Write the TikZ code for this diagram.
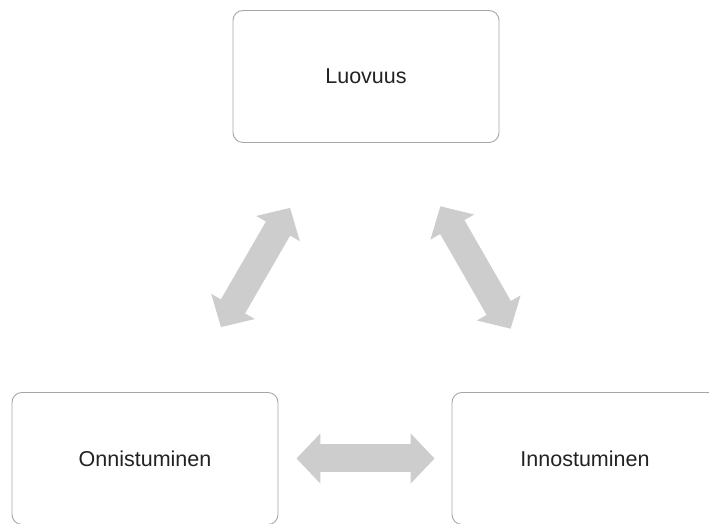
\documentclass[tikz,border=0pt]{standalone}
\usepackage{fontspec}
\setmainfont{Liberation Sans}
\usepackage{tikz}
\usetikzlibrary{arrows.meta}
\definecolor{boxline}{HTML}{A6A6A6}
\definecolor{arrowgray}{HTML}{CDCDCD}
\definecolor{textgray}{HTML}{222222}

\begin{document}
\begin{tikzpicture}[
    x=1pt, y=1pt,
    box/.style={rectangle, draw=boxline, line width=0.9pt, rounded corners=10pt, fill=white, minimum width=266pt, minimum height=132pt, font=\fontsize{21.5}{24}\selectfont, text=textgray},
    bigarrow/.style={draw=arrowgray, line width=28pt, {Triangle[length=24pt,width=49pt]}-{Triangle[length=24pt,width=49pt]}},
]
\useasboundingbox (0,0) rectangle (709,524);
\clip (0,0) rectangle (709,524);

% Top box
\node[box] (luo) at (366,447.5) {Luovuus};

% Bottom boxes
\node[box] (onn) at (145,65.5) {Onnistuminen};
\node[box] (inn) at (585,65.5) {Innostuminen};

% Arrows between the boxes
\draw[bigarrow, shorten <=75pt, shorten >=75pt] (onn) -- (luo);
\draw[bigarrow, shorten <=73pt, shorten >=73pt] (luo) -- (inn);
\draw[bigarrow, shorten <=18pt, shorten >=17pt] (onn) -- (inn);

\end{tikzpicture}
\end{document}
